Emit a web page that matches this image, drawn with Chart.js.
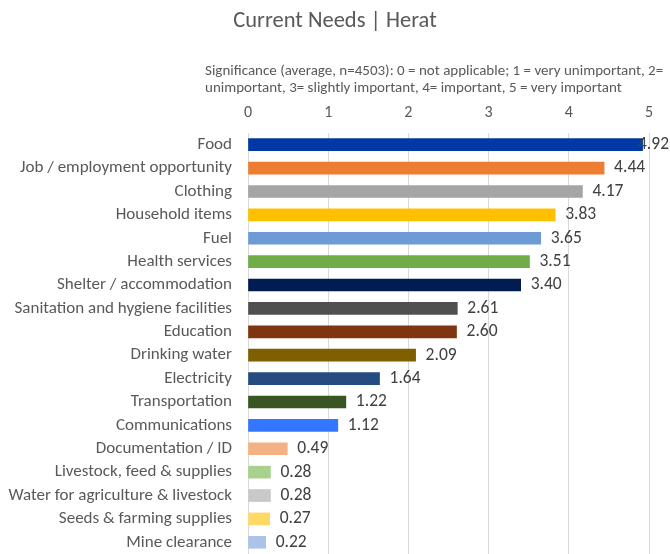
<!DOCTYPE html>
<html>
<head>
<meta charset="utf-8">
<script src="https://cdn.jsdelivr.net/npm/chart.js@4/dist/chart.umd.min.js"></script>
<style>
  html, body { margin: 0; padding: 0; background: #fff; }
  #wrap { width: 670px; height: 554px; }
</style>
</head>
<body>
<div id="wrap"><canvas id="needs"></canvas></div>
<script>
// Current needs in Herat - average significance
const categories = [
  "Food", "Job / employment opportunity", "Clothing", "Household items", "Fuel",
  "Health services", "Shelter / accommodation", "Sanitation and hygiene facilities",
  "Education", "Drinking water", "Electricity", "Transportation", "Communications",
  "Documentation / ID", "Livestock, feed & supplies", "Water for agriculture & livestock",
  "Seeds & farming supplies", "Mine clearance"
];
const values = [4.92, 4.44, 4.17, 3.83, 3.65, 3.51, 3.40, 2.61, 2.60, 2.09, 1.64, 1.22, 1.12, 0.49, 0.28, 0.28, 0.27, 0.22];
const barColors = [
  "#0039A6", "#ED7D31", "#A5A5A5", "#FFC000", "#6D9BD6", "#70AD47", "#001C52", "#505050",
  "#7F3510", "#7F6000", "#254C80", "#375623", "#3377FF", "#F4B183", "#A9D18E", "#C9C9C9",
  "#FFD966", "#A9C4E8"
];
const tickValues = [0, 1, 2, 3, 4, 5];
const axisTitle = [
  "Significance (average, n=4503): 0 = not applicable; 1 = very unimportant, 2=",
  "unimportant, 3= slightly important, 4= important, 5 = very important"
];

const FONT = "Carlito, Lato, 'Liberation Sans', sans-serif";
const TXT = "#595959";

// libellés de valeurs à droite des barres (repoussés à gauche si ça dépasse)
const valueLabels = {
  id: "valueLabels",
  afterDatasetsDraw(chart) {
    const ctx = chart.ctx;
    const meta = chart.getDatasetMeta(0);
    ctx.save();
    ctx.font = "17.5px " + FONT;
    ctx.fillStyle = "#404040";
    ctx.textBaseline = "middle";
    meta.data.forEach((bar, i) => {
      const txt = values[i].toFixed(2);
      const w = ctx.measureText(txt).width;
      let x = bar.x + 10;
      if (x + w > chart.width - 1) x = chart.width - 1 - w;
      ctx.fillText(txt, x, bar.y);
    });
    ctx.restore();
  }
};

// titre de l'axe, aligné à gauche comme dans l'original
const axisCaption = {
  id: "axisCaption",
  afterDraw(chart) {
    const ctx = chart.ctx;
    ctx.save();
    ctx.font = "15px " + FONT;
    ctx.fillStyle = TXT;
    ctx.textBaseline = "middle";
    axisTitle.forEach((line, i) => ctx.fillText(line, 205, 71 + i * 17));
    ctx.restore();
  }
};

new Chart(document.getElementById("needs"), {
  type: "bar",
  data: {
    labels: categories,
    datasets: [{
      data: values,
      backgroundColor: barColors,
      barThickness: 12
    }]
  },
  options: {
    indexAxis: "y",
    responsive: true,
    maintainAspectRatio: false,
    animation: false,
    layout: { padding: 0 },
    plugins: {
      legend: { display: false },
      tooltip: { enabled: false },
      title: {
        display: true,
        text: "Current Needs | Herat",
        color: TXT,
        font: { family: FONT, size: 22.5, weight: "normal" },
        padding: { top: 8, bottom: 65 }
      }
    },
    scales: {
      x: {
        position: "top",
        min: 0,
        max: 5,
        afterBuildTicks: s => { s.ticks = tickValues.map(v => ({ value: v })); },
        afterFit: s => { s.height = 33; s.paddingRight = 21; },
        ticks: { color: TXT, font: { family: FONT, size: 16 }, padding: 10 },
        grid: { color: "#D9D9D9", drawTicks: false },
        border: { display: false }
      },
      y: {
        afterFit: s => { s.width = 248; s.paddingTop = 0; s.paddingBottom = 0; },
        ticks: { color: TXT, font: { family: FONT, size: 17 }, padding: 8, autoSkip: false },
        grid: { display: false },
        border: { display: true, color: "#D9D9D9" }
      }
    }
  },
  plugins: [valueLabels, axisCaption]
});
</script>
</body>
</html>
